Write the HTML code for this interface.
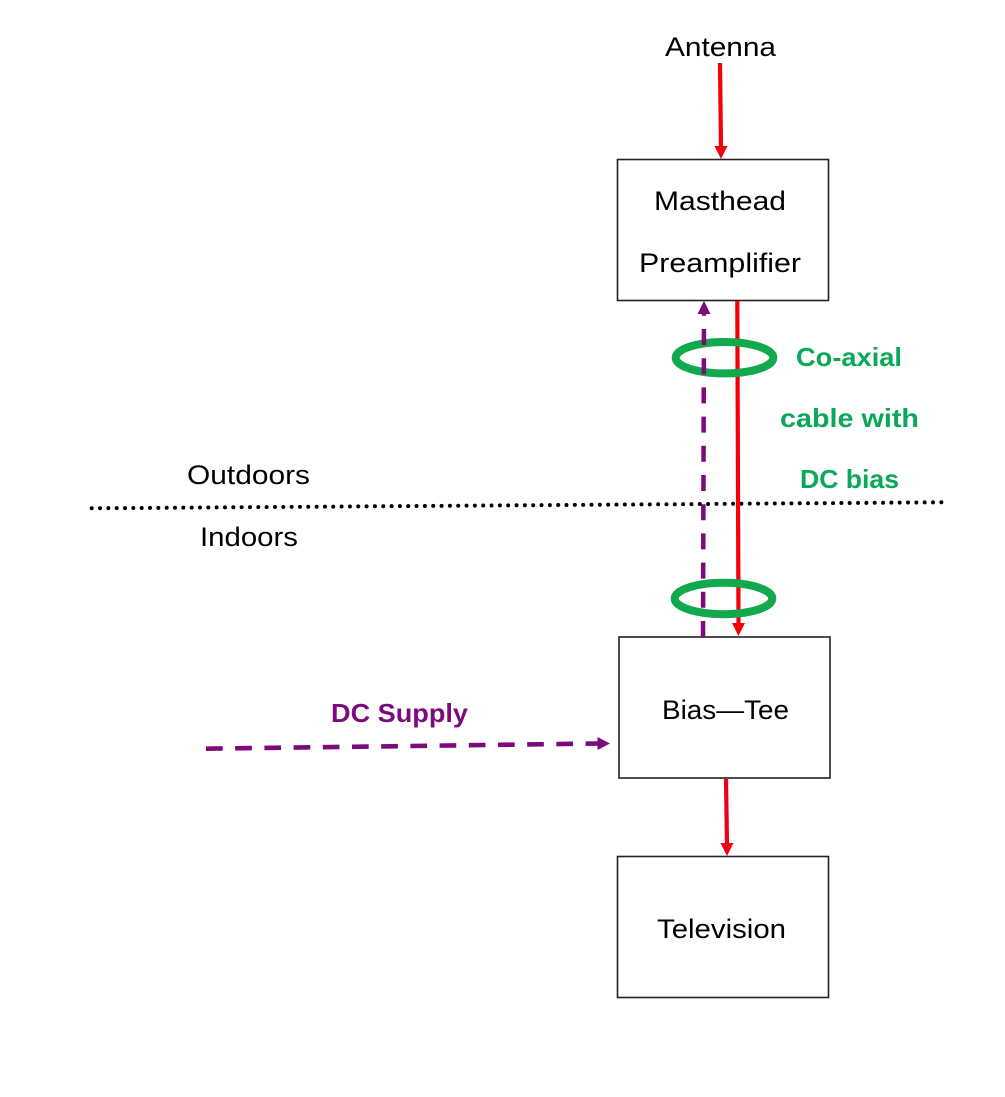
<!DOCTYPE html>
<html>
<head>
<meta charset="utf-8">
<style>
html,body{margin:0;padding:0;background:#fff;}
svg{display:block;}
text{font-family:"Liberation Sans",sans-serif;font-size:27px;fill:#000;text-anchor:start;}
.g{fill:#0aa858;font-weight:bold;font-size:26px;}
.p{fill:#7c0a7c;font-weight:bold;font-size:26px;}
</style>
</head>
<body>
<svg width="1005" height="1097" viewBox="0 0 1005 1097" xmlns="http://www.w3.org/2000/svg">
<rect width="1005" height="1097" fill="#fff"/>
<!-- boxes -->
<rect x="617.500" y="159.500" width="211" height="141" fill="#fff" stroke="#222" stroke-width="1.6"/>
<rect x="619" y="637" width="211" height="141" fill="#fff" stroke="#222" stroke-width="1.6"/>
<rect x="617.500" y="856.500" width="211" height="141" fill="#fff" stroke="#222" stroke-width="1.6"/>
<!-- dotted line -->
<line x1="91.700" y1="508.300" x2="943" y2="502.300" stroke="#000" stroke-width="4" stroke-linecap="round" stroke-dasharray="0 8.33"/>
<!-- red arrows -->
<line x1="720" y1="63" x2="721" y2="148" stroke="#f50008" stroke-width="4.200"/>
<polygon points="721,159 714.500,146 727.500,146" fill="#f50008"/>
<line x1="737.300" y1="301" x2="738.500" y2="625" stroke="#f50008" stroke-width="4.200"/>
<polygon points="738.500,636 732,623 745,623" fill="#f50008"/>
<line x1="726" y1="779" x2="727" y2="845" stroke="#ea0018" stroke-width="4.200"/>
<polygon points="727,856 720.500,843 733.500,843" fill="#ea0018"/>
<!-- green ellipses -->
<ellipse cx="724.500" cy="357.700" rx="48.800" ry="15.700" fill="none" stroke="#12a84e" stroke-width="8"/>
<!-- purple dashed vertical -->
<line x1="703" y1="637" x2="704" y2="305" stroke="#7c0a7c" stroke-width="4.500" stroke-dasharray="16 13.2"/>
<ellipse cx="723.500" cy="598.500" rx="48.800" ry="15.700" fill="none" stroke="#12a84e" stroke-width="8"/>
<polygon points="704,301 697.500,314 710.500,314" fill="#7c0a7c"/>
<!-- purple dashed horizontal -->
<line x1="206" y1="748.700" x2="600" y2="743.500" stroke="#7c0a7c" stroke-width="4.600" stroke-dasharray="16.700 12.500"/>
<polygon points="610,743.500 597.500,737 597.500,750" fill="#7c0a7c"/>
<!-- labels -->
<text x="665" y="56" textLength="111" lengthAdjust="spacingAndGlyphs">Antenna</text>
<text x="654" y="210" textLength="132" lengthAdjust="spacingAndGlyphs">Masthead</text>
<text x="639" y="272" textLength="162" lengthAdjust="spacingAndGlyphs">Preamplifier</text>
<text x="662" y="719" textLength="127" lengthAdjust="spacingAndGlyphs">Bias—Tee</text>
<text x="657" y="938" textLength="129" lengthAdjust="spacingAndGlyphs">Television</text>
<text x="187" y="484" textLength="123" lengthAdjust="spacingAndGlyphs">Outdoors</text>
<text x="200" y="546" textLength="98" lengthAdjust="spacingAndGlyphs">Indoors</text>
<text class="g" x="796" y="366" textLength="106" lengthAdjust="spacingAndGlyphs">Co-axial</text>
<text class="g" x="780" y="427" textLength="139" lengthAdjust="spacingAndGlyphs">cable with</text>
<text class="g" x="800" y="488" textLength="99" lengthAdjust="spacingAndGlyphs">DC bias</text>
<text class="p" x="331" y="722" textLength="137" lengthAdjust="spacingAndGlyphs">DC Supply</text>
</svg>
</body>
</html>
